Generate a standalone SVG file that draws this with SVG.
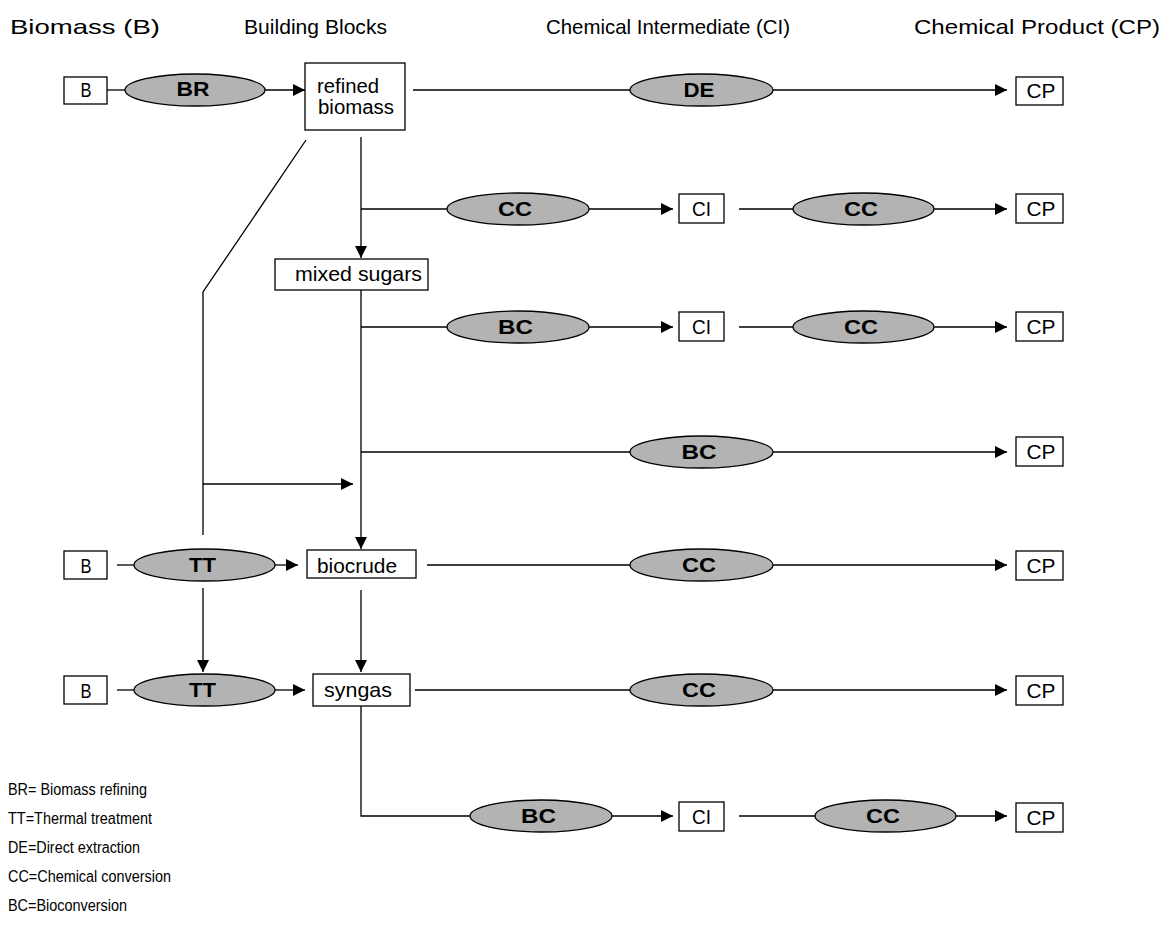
<svg xmlns="http://www.w3.org/2000/svg" width="1167" height="926" viewBox="0 0 1167 926">
<style>
text{font-family:"Liberation Sans Narrow","Arial Narrow","Liberation Sans",sans-serif;fill:#000}
.h{font-size:21px}
.bx{fill:#fff;stroke:#000;stroke-width:1.3}
.el{fill:#b3b3b3;stroke:#000;stroke-width:1.3}
.lb{font-size:21px;text-anchor:middle}
.lbs{font-size:21px}
.rb{font-size:20px}
.et{font-size:21px;font-weight:bold;text-anchor:middle}
.ln{fill:none;stroke:#000;stroke-width:1.3}
.lg{font-size:16px}
</style>
<defs>
<marker id="ar" viewBox="0 0 10 10" refX="10" refY="5" markerWidth="12" markerHeight="12" markerUnits="userSpaceOnUse" orient="auto">
<path d="M0,0 L10,5 L0,10 z" fill="#000"/>
</marker>
</defs>
<rect width="1167" height="926" fill="#fff"/>
<g id="headers">
<text class="h" x="10" y="34" textLength="150" lengthAdjust="spacingAndGlyphs">Biomass   (B)</text>
<text class="h" x="244" y="34" textLength="143" lengthAdjust="spacingAndGlyphs">Building Blocks</text>
<text class="h" x="546" y="34" textLength="244" lengthAdjust="spacingAndGlyphs">Chemical Intermediate (CI)</text>
<text class="h" x="914" y="34" textLength="246" lengthAdjust="spacingAndGlyphs">Chemical Product (CP)</text>
</g>
<g id="connectors">
<line class="ln" x1="107" y1="90" x2="125" y2="90"/>
<line class="ln" x1="265" y1="90" x2="305" y2="90" marker-end="url(#ar)"/>
<line class="ln" x1="413" y1="90" x2="630" y2="90"/>
<line class="ln" x1="773" y1="90" x2="1007" y2="90" marker-end="url(#ar)"/>
<line class="ln" x1="361" y1="137" x2="361" y2="258" marker-end="url(#ar)"/>
<line class="ln" x1="361" y1="209" x2="447" y2="209"/>
<line class="ln" x1="589" y1="209" x2="673" y2="209" marker-end="url(#ar)"/>
<line class="ln" x1="739" y1="209" x2="793" y2="209"/>
<line class="ln" x1="934" y1="209" x2="1007" y2="209" marker-end="url(#ar)"/>
<line class="ln" x1="361" y1="290" x2="361" y2="549" marker-end="url(#ar)"/>
<line class="ln" x1="361" y1="327" x2="447" y2="327"/>
<line class="ln" x1="589" y1="327" x2="673" y2="327" marker-end="url(#ar)"/>
<line class="ln" x1="739" y1="327" x2="793" y2="327"/>
<line class="ln" x1="934" y1="327" x2="1007" y2="327" marker-end="url(#ar)"/>
<line class="ln" x1="361" y1="452" x2="630" y2="452"/>
<line class="ln" x1="773" y1="452" x2="1007" y2="452" marker-end="url(#ar)"/>
<polyline class="ln" points="306,140 203,292 203,535"/>
<line class="ln" x1="203" y1="484" x2="353" y2="484" marker-end="url(#ar)"/>
<line class="ln" x1="117" y1="565" x2="134" y2="565"/>
<line class="ln" x1="275" y1="565" x2="298" y2="565" marker-end="url(#ar)"/>
<line class="ln" x1="427" y1="565" x2="630" y2="565"/>
<line class="ln" x1="773" y1="565" x2="1007" y2="565" marker-end="url(#ar)"/>
<line class="ln" x1="203" y1="588" x2="203" y2="672" marker-end="url(#ar)"/>
<line class="ln" x1="361" y1="590" x2="361" y2="672" marker-end="url(#ar)"/>
<line class="ln" x1="117" y1="690" x2="134" y2="690"/>
<line class="ln" x1="275" y1="690" x2="305" y2="690" marker-end="url(#ar)"/>
<line class="ln" x1="415" y1="690" x2="630" y2="690"/>
<line class="ln" x1="773" y1="690" x2="1007" y2="690" marker-end="url(#ar)"/>
<polyline class="ln" points="361,706 361,816 470,816"/>
<line class="ln" x1="612" y1="816" x2="673" y2="816" marker-end="url(#ar)"/>
<line class="ln" x1="739" y1="816" x2="815" y2="816"/>
<line class="ln" x1="956" y1="816" x2="1007" y2="816" marker-end="url(#ar)"/>
</g>
<g id="n-b1"><rect class="bx" x="64" y="77" width="43" height="27"/><text class="lb" x="86" y="97" textLength="11" lengthAdjust="spacingAndGlyphs">B</text></g>
<g id="n-br"><ellipse class="el" cx="195" cy="90" rx="70" ry="16"/><text class="et" x="193" y="96" textLength="33" lengthAdjust="spacingAndGlyphs">BR</text></g>
<g id="n-refined"><rect class="bx" x="305" y="63" width="100" height="67"/><text class="rb" x="317" y="93" textLength="62" lengthAdjust="spacingAndGlyphs">refined</text><text class="rb" x="318" y="114" textLength="76" lengthAdjust="spacingAndGlyphs">biomass</text></g>
<g id="n-de"><ellipse class="el" cx="701.5" cy="90" rx="71.5" ry="16"/><text class="et" x="699" y="97" textLength="31" lengthAdjust="spacingAndGlyphs">DE</text></g>
<g id="n-cp1"><rect class="bx" x="1016" y="77" width="47" height="28"/><text class="lb" x="1041" y="98" textLength="29" lengthAdjust="spacingAndGlyphs">CP</text></g>

<g id="n-cc2a"><ellipse class="el" cx="518" cy="209" rx="71" ry="16"/><text class="et" x="515" y="216" textLength="34" lengthAdjust="spacingAndGlyphs">CC</text></g>
<g id="n-ci2"><rect class="bx" x="679" y="194" width="45" height="29"/><text class="lb" x="701.5" y="216" textLength="19" lengthAdjust="spacingAndGlyphs">CI</text></g>
<g id="n-cc2b"><ellipse class="el" cx="863.5" cy="209" rx="70.5" ry="16"/><text class="et" x="861" y="216" textLength="34" lengthAdjust="spacingAndGlyphs">CC</text></g>
<g id="n-cp2"><rect class="bx" x="1016" y="194" width="47" height="29"/><text class="lb" x="1041" y="216" textLength="29" lengthAdjust="spacingAndGlyphs">CP</text></g>

<g id="n-sugars"><rect class="bx" x="275" y="259" width="153" height="31"/><text class="lbs" x="295" y="281" textLength="127" lengthAdjust="spacingAndGlyphs">mixed sugars</text></g>

<g id="n-bc3"><ellipse class="el" cx="518" cy="327" rx="71" ry="16"/><text class="et" x="515.5" y="334" textLength="35" lengthAdjust="spacingAndGlyphs">BC</text></g>
<g id="n-ci3"><rect class="bx" x="679" y="312" width="45" height="29"/><text class="lb" x="701.5" y="334" textLength="19" lengthAdjust="spacingAndGlyphs">CI</text></g>
<g id="n-cc3"><ellipse class="el" cx="863.5" cy="327" rx="70.5" ry="16"/><text class="et" x="861" y="334" textLength="34" lengthAdjust="spacingAndGlyphs">CC</text></g>
<g id="n-cp3"><rect class="bx" x="1016" y="312" width="47" height="29"/><text class="lb" x="1041" y="334" textLength="29" lengthAdjust="spacingAndGlyphs">CP</text></g>

<g id="n-bc4"><ellipse class="el" cx="701.5" cy="452" rx="71.5" ry="16"/><text class="et" x="699" y="459" textLength="35" lengthAdjust="spacingAndGlyphs">BC</text></g>
<g id="n-cp4"><rect class="bx" x="1016" y="437" width="47" height="29"/><text class="lb" x="1041" y="459" textLength="29" lengthAdjust="spacingAndGlyphs">CP</text></g>

<g id="n-b5"><rect class="bx" x="64" y="551" width="43" height="28"/><text class="lb" x="86" y="573" textLength="11" lengthAdjust="spacingAndGlyphs">B</text></g>
<g id="n-tt5"><ellipse class="el" cx="204.5" cy="565" rx="70.5" ry="16"/><text class="et" x="202.5" y="572" textLength="27" lengthAdjust="spacingAndGlyphs">TT</text></g>
<g id="n-biocrude"><rect class="bx" x="307" y="550" width="109" height="28"/><text class="lbs" x="317" y="573" textLength="80" lengthAdjust="spacingAndGlyphs">biocrude</text></g>
<g id="n-cc5"><ellipse class="el" cx="701.5" cy="565" rx="71.5" ry="16"/><text class="et" x="699" y="572" textLength="34" lengthAdjust="spacingAndGlyphs">CC</text></g>
<g id="n-cp5"><rect class="bx" x="1016" y="551" width="47" height="29"/><text class="lb" x="1041" y="573" textLength="29" lengthAdjust="spacingAndGlyphs">CP</text></g>

<g id="n-b6"><rect class="bx" x="64" y="676" width="43" height="28"/><text class="lb" x="86" y="698" textLength="11" lengthAdjust="spacingAndGlyphs">B</text></g>
<g id="n-tt6"><ellipse class="el" cx="204.5" cy="690" rx="70.5" ry="16"/><text class="et" x="202.5" y="697" textLength="27" lengthAdjust="spacingAndGlyphs">TT</text></g>
<g id="n-syngas"><rect class="bx" x="313" y="674" width="97" height="32"/><text class="lbs" x="324" y="697" textLength="68" lengthAdjust="spacingAndGlyphs">syngas</text></g>
<g id="n-cc6"><ellipse class="el" cx="701.5" cy="690" rx="71.5" ry="16"/><text class="et" x="699" y="697" textLength="34" lengthAdjust="spacingAndGlyphs">CC</text></g>
<g id="n-cp6"><rect class="bx" x="1016" y="676" width="47" height="29"/><text class="lb" x="1041" y="698" textLength="29" lengthAdjust="spacingAndGlyphs">CP</text></g>

<g id="n-bc7"><ellipse class="el" cx="541" cy="816" rx="71" ry="16"/><text class="et" x="538.5" y="823" textLength="35" lengthAdjust="spacingAndGlyphs">BC</text></g>
<g id="n-ci7"><rect class="bx" x="679" y="802" width="45" height="29"/><text class="lb" x="701.5" y="824" textLength="19" lengthAdjust="spacingAndGlyphs">CI</text></g>
<g id="n-cc7"><ellipse class="el" cx="885.5" cy="816" rx="70.5" ry="16"/><text class="et" x="883" y="823" textLength="34" lengthAdjust="spacingAndGlyphs">CC</text></g>
<g id="n-cp7"><rect class="bx" x="1016" y="803" width="47" height="29"/><text class="lb" x="1041" y="825" textLength="29" lengthAdjust="spacingAndGlyphs">CP</text></g>

<g id="legend">
<text class="lg" x="8" y="795" textLength="139" lengthAdjust="spacingAndGlyphs">BR= Biomass refining</text>
<text class="lg" x="8" y="824" textLength="144" lengthAdjust="spacingAndGlyphs">TT=Thermal treatment</text>
<text class="lg" x="8" y="853" textLength="132" lengthAdjust="spacingAndGlyphs">DE=Direct extraction</text>
<text class="lg" x="8" y="882" textLength="163" lengthAdjust="spacingAndGlyphs">CC=Chemical conversion</text>
<text class="lg" x="8" y="911" textLength="119" lengthAdjust="spacingAndGlyphs">BC=Bioconversion</text>
</g>
</svg>
